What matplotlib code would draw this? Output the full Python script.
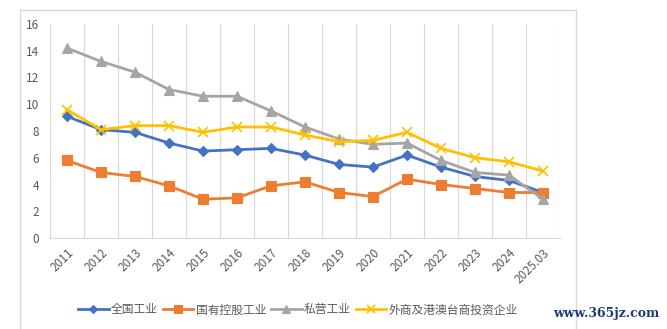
import numpy as np
import matplotlib.pyplot as plt
from matplotlib.lines import Line2D

plt.rcParams['font.family'] = ['Noto Sans CJK SC', 'DejaVu Sans']

years = ["2011", "2012", "2013", "2014", "2015", "2016", "2017", "2018",
         "2019", "2020", "2021", "2022", "2023", "2024", "2025.03"]
national = [9.1, 8.1, 7.9, 7.1, 6.5, 6.6, 6.7, 6.2, 5.5, 5.3, 6.2, 5.3, 4.6, 4.3, 3.4]
state_owned = [5.8, 4.9, 4.6, 3.9, 2.9, 3.0, 3.9, 4.2, 3.4, 3.1, 4.4, 4.0, 3.7, 3.4, 3.4]
private = [14.2, 13.2, 12.4, 11.1, 10.6, 10.6, 9.5, 8.3, 7.4, 7.0, 7.1, 5.8, 4.9, 4.7, 2.9]
foreign = [9.6, 8.1, 8.4, 8.4, 7.9, 8.3, 8.3, 7.7, 7.2, 7.3, 7.9, 6.7, 6.0, 5.7, 5.0]

names = ["全国工业", "国有控股工业", "私营工业", "外商及港澳台商投资企业"]
colors = ["#4472C4", "#ED7D31", "#A5A5A5", "#FFC000"]
markers = ["D", "s", "^", "x"]
msizes = [5, 6.5, 6.5, 6.5]

fig = plt.figure(figsize=(6.67, 3.29), dpi=100)
ax = fig.add_axes([50 / 667, 1 - 238 / 329, 510 / 667, 214 / 329])

# chart border (bottom edge is outside the picture)
fig.add_artist(Line2D([20 / 667, 20 / 667, 576 / 667, 576 / 667],
                      [0, 1 - 9.5 / 329, 1 - 9.5 / 329, 0],
                      transform=fig.transFigure, color="#d9d9d9", lw=1))

x = np.arange(len(years))
for vals, name, c, m, ms in zip([national, state_owned, private, foreign],
                                names, colors, markers, msizes):
    ax.plot(x, vals, color=c, lw=2.0, marker=m, markersize=ms,
            markeredgewidth=1.2 if m == "x" else 0.8, label=name, zorder=3)

ax.set_xlim(-0.5, len(years) - 0.5)
ax.set_ylim(0, 16)
for b in np.arange(-0.5, len(years), 1.0):
    ax.axvline(b, color="#d9d9d9", lw=0.9, zorder=1)

ax.set_yticks(range(0, 17, 2))
ax.set_xticks(x)
ax.set_xticklabels(years, rotation=45, ha="right", va="top",
                   rotation_mode="anchor")
ax.tick_params(axis="both", length=0, colors="#595959", labelsize=8.5)
ax.tick_params(axis="x", pad=6)
ax.tick_params(axis="y", pad=8)
for s in ["top", "right", "left"]:
    ax.spines[s].set_visible(False)
ax.spines["bottom"].set_color("#d9d9d9")

leg = fig.legend(loc="center", bbox_to_anchor=(298 / 667, 1 - 310 / 329),
                 ncol=4, frameon=False, fontsize=8.5, handlelength=2.6,
                 columnspacing=0.4, handletextpad=0.2, markerscale=0.8)
for t in leg.get_texts():
    t.set_color("#595959")

fig.text(606 / 667, 1 - 313 / 329, "www.365jz.com", color="#1f3a78",
         fontsize=9, fontweight="bold", family="DejaVu Serif",
         ha="center", va="center")

fig.savefig("out.png", dpi=100)
